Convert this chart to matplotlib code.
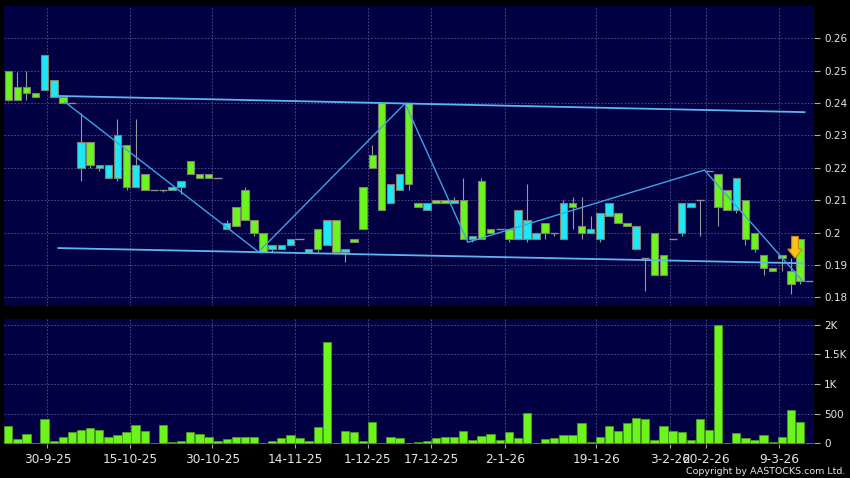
import numpy as np
import matplotlib
matplotlib.use('Agg')
import matplotlib.pyplot as plt
from matplotlib.patches import Rectangle

# daily candles, index 0..88 (green = up, cyan = down, open == close -> flat doji)
opens = [0.241, 0.241, 0.243, 0.242, 0.255, 0.247, 0.240, 0.240, 0.228, 0.221,
         0.221, 0.221, 0.230, 0.214, 0.221, 0.213, 0.213, 0.213, 0.214, 0.216,
         0.218, 0.217, 0.217, 0.217, 0.203, 0.202, 0.204, 0.200, 0.194, 0.196,
         0.196, 0.198, 0.198, 0.195, 0.195, 0.204, 0.194, 0.195, 0.197, 0.201,
         0.220, 0.207, 0.215, 0.218, 0.215, 0.208, 0.209, 0.209, 0.209, 0.210,
         0.198, 0.199, 0.198, 0.200, 0.201, 0.198, 0.207, 0.204, 0.200, 0.200,
         0.200, 0.209, 0.208, 0.200, 0.201, 0.206, 0.209, 0.203, 0.202, 0.202,
         0.192, 0.187, 0.187, 0.198, 0.209, 0.209, 0.210, 0.219, 0.208, 0.207,
         0.217, 0.198, 0.195, 0.189, 0.188, 0.192, 0.184, 0.185, 0.185]
closes = [0.250, 0.245, 0.245, 0.243, 0.244, 0.242, 0.242, 0.240, 0.220, 0.228,
          0.220, 0.217, 0.217, 0.227, 0.214, 0.218, 0.213, 0.213, 0.213, 0.214,
          0.222, 0.218, 0.218, 0.217, 0.201, 0.208, 0.213, 0.204, 0.200, 0.195,
          0.195, 0.196, 0.198, 0.194, 0.201, 0.196, 0.204, 0.194, 0.198, 0.214,
          0.224, 0.240, 0.209, 0.213, 0.240, 0.209, 0.207, 0.210, 0.210, 0.209,
          0.210, 0.198, 0.216, 0.201, 0.201, 0.201, 0.198, 0.198, 0.198, 0.203,
          0.200, 0.198, 0.209, 0.202, 0.200, 0.198, 0.205, 0.206, 0.203, 0.195,
          0.192, 0.200, 0.193, 0.198, 0.200, 0.208, 0.210, 0.219, 0.218, 0.213,
          0.207, 0.210, 0.200, 0.193, 0.189, 0.193, 0.188, 0.198, 0.185]
highs = [0.250, 0.2495, 0.250, 0.243, 0.255, 0.247, 0.242, 0.240, 0.237, 0.228,
         0.221, 0.221, 0.235, 0.227, 0.235, 0.218, 0.213, 0.213, 0.214, 0.216,
         0.222, 0.218, 0.218, 0.217, 0.204, 0.208, 0.214, 0.204, 0.200, 0.196,
         0.196, 0.198, 0.198, 0.195, 0.201, 0.204, 0.204, 0.195, 0.198, 0.214,
         0.227, 0.240, 0.215, 0.218, 0.240, 0.209, 0.209, 0.210, 0.210, 0.211,
         0.217, 0.199, 0.217, 0.201, 0.201, 0.201, 0.207, 0.215, 0.200, 0.203,
         0.200, 0.210, 0.211, 0.211, 0.205, 0.206, 0.209, 0.206, 0.203, 0.202,
         0.192, 0.200, 0.193, 0.198, 0.209, 0.209, 0.210, 0.219, 0.218, 0.213,
         0.217, 0.210, 0.200, 0.193, 0.189, 0.193, 0.192, 0.198, 0.185]
lows = [0.2405, 0.241, 0.241, 0.242, 0.244, 0.242, 0.240, 0.240, 0.216, 0.220,
        0.219, 0.217, 0.216, 0.213, 0.214, 0.213, 0.213, 0.2125, 0.213, 0.212,
        0.218, 0.217, 0.217, 0.217, 0.201, 0.202, 0.204, 0.199, 0.194, 0.194,
        0.195, 0.196, 0.198, 0.194, 0.194, 0.196, 0.194, 0.191, 0.197, 0.201,
        0.220, 0.207, 0.209, 0.213, 0.213, 0.208, 0.207, 0.209, 0.209, 0.209,
        0.198, 0.197, 0.198, 0.200, 0.201, 0.197, 0.198, 0.197, 0.198, 0.198,
        0.199, 0.198, 0.201, 0.198, 0.200, 0.197, 0.205, 0.203, 0.202, 0.195,
        0.182, 0.187, 0.187, 0.198, 0.199, 0.208, 0.199, 0.219, 0.202, 0.207,
        0.206, 0.196, 0.194, 0.187, 0.188, 0.188, 0.181, 0.184, 0.185]
volumes = [298, 79, 157, 2, 410, 34, 101, 197, 219, 258,
           219, 112, 135, 197, 303, 208, 0, 315, 22, 39,
           197, 152, 107, 45, 73, 107, 107, 107, 2, 45,
           96, 146, 84, 45, 281, 1702, 2, 213, 191, 45,
           365, 2, 107, 90, 2, 17, 37, 90, 107, 107,
           202, 62, 124, 157, 51, 185, 90, 517, 2, 73,
           90, 135, 140, 337, 17, 107, 298, 202, 343, 427,
           404, 51, 292, 213, 197, 62, 404, 225, 2000, 2,
           180, 90, 51, 140, 17, 107, 567, 360, 0]

date_labels = ['30-9-25', '15-10-25', '30-10-25', '14-11-25', '1-12-25', '17-12-25',
               '2-1-26', '19-1-26', '3-2-26', '20-2-26', '9-3-26']
date_pos = [4.3, 13.4, 22.4, 31.5, 39.5, 46.5, 54.6, 64.6, 72.7, 76.7, 84.7]

# drawn trend lines: channel top, channel bottom, zigzag
upper_x, upper_y = [5.5, 87.5], [0.2422, 0.2372]
lower_x, lower_y = [5.5, 87.4], [0.1952, 0.1905]
zig_x = [6.2, 27.5, 43.6, 50.5, 76.5, 87.3]
zig_y = [0.2404, 0.194, 0.2399, 0.197, 0.2193, 0.185]

price_ticks = [0.18, 0.19, 0.20, 0.21, 0.22, 0.23, 0.24, 0.25, 0.26]
vol_ticks = [0, 500, 1000, 1500, 2000]
vol_labels = ['0', '500', '1K', '1.5K', '2K']

bg = '#000042'
green = '#6cf51c'
cyan = '#1ee8f5'
gridc = '#55558c'
txt = '#e6e6e6'

fig = plt.figure(figsize=(8.5, 4.78), dpi=100, facecolor='black')
axP = fig.add_axes([4/850, 1-306/478, (814.3-4)/850, 300/478])
axV = fig.add_axes([4/850, 1-444/478, (814.3-4)/850, (444-319.3)/478])

for ax in (axP, axV):
    ax.set_facecolor(bg)
    for s in ax.spines.values():
        s.set_visible(False)
    ax.set_xlim(-0.47, 88.57)
    ax.yaxis.tick_right()
    ax.tick_params(axis='y', colors='#aaaaaa', labelcolor=txt, labelsize=7.5, length=4, width=0.8, pad=3)
    for p in date_pos:
        ax.axvline(p, color=gridc, lw=0.6, ls=(0, (2, 2)), zorder=0)

# candles
n = len(opens)
for i in range(n):
    o, c, h, l = opens[i], closes[i], highs[i], lows[i]
    axP.vlines(i, l, h, color='#9a9a9a', lw=0.8, zorder=2)
    if o == c:
        axP.hlines(o, i-0.45, i+0.45, color='#8c8c8c', lw=1.0, zorder=3)
    else:
        col = green if c > o else cyan
        axP.add_patch(Rectangle((i-0.41, min(o, c)), 0.82, abs(c-o), facecolor=col,
                                edgecolor='#808070', lw=0.8, zorder=3))

axP.plot(upper_x, upper_y, color='#5cb6f0', lw=1.3, zorder=4)
axP.plot(lower_x, lower_y, color='#5cb6f0', lw=1.3, zorder=4)
axP.plot(zig_x, zig_y, color='#3fa2e6', lw=1.0, zorder=4)

# signal arrow on the last bars
axP.arrow(86.45, 0.1988, 0, 0.1921-0.1988, width=0.73, head_width=1.6, head_length=0.0028,
          length_includes_head=True, facecolor='#ffc21a', edgecolor='#d08a00', lw=0.8, zorder=6)

axP.set_ylim(0.1773, 0.27)
axP.set_yticks(price_ticks)
axP.set_yticklabels(['%g' % v for v in price_ticks])
axP.set_xticks([])
for v in price_ticks:
    axP.axhline(v, color=gridc, lw=0.6, ls=(0, (2, 2)), zorder=0)

# volume
axV.bar(np.arange(n), volumes, width=0.92, color=green, edgecolor='#4c9a22', lw=0.6, zorder=3)
axV.set_ylim(-12, 2090)
axV.set_yticks(vol_ticks)
axV.set_yticklabels(vol_labels)
for v in vol_ticks[1:]:
    axV.axhline(v, color=gridc, lw=0.6, ls=(0, (2, 2)), zorder=0)
axV.set_xticks(date_pos)
axV.set_xticklabels(date_labels)
axV.tick_params(axis='x', colors='#aaaaaa', labelcolor=txt, labelsize=8.7, length=3, width=0.8, pad=3.5)

fig.text(845/850, 1-471.5/478, 'Copyright by AASTOCKS.com Ltd.', color=txt, fontsize=6.8,
         ha='right', va='center')

plt.savefig('out.png', dpi=100, facecolor='black')
